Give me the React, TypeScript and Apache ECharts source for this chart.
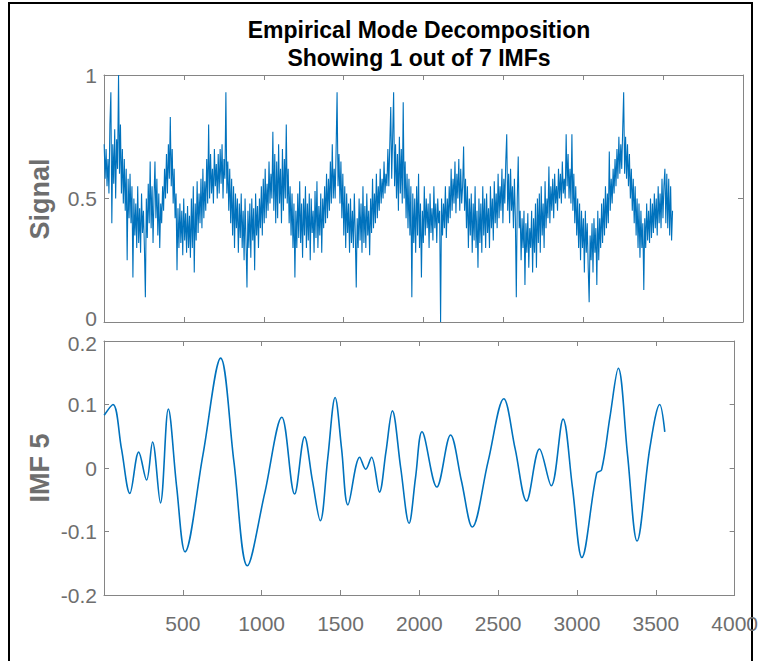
import React, { useEffect, useRef } from 'react';
import * as echarts from 'echarts';

const TITLE_LINES = ['Empirical Mode Decomposition', 'Showing 1 out of 7 IMFs'];
const TOP_LABEL = 'Signal';
const BOTTOM_LABEL = 'IMF 5';

const SIGNAL_STEP = 6;
const signalValues = [
  0.72, 0.58, 0.70, 0.55, 0.66, 0.52, 0.80, 0.93, 0.40, 0.72, 0.56, 0.78, 0.50, 0.74, 0.62, 1.00, 0.60, 0.80, 0.52, 0.70, 0.48, 0.66, 0.45, 0.62, 0.25, 0.58, 0.42, 0.60, 0.40, 0.55,
  0.18, 0.50, 0.35, 0.48, 0.30, 0.55, 0.32, 0.46, 0.28, 0.52, 0.36, 0.45, 0.30, 0.10, 0.50, 0.34, 0.56, 0.40, 0.65, 0.38, 0.55, 0.32, 0.50, 0.65, 0.42, 0.58, 0.35, 0.52, 0.30, 0.48,
  0.40, 0.55, 0.45, 0.62, 0.50, 0.68, 0.52, 0.72, 0.58, 0.83, 0.55, 0.70, 0.48, 0.62, 0.42, 0.52, 0.21, 0.46, 0.30, 0.48, 0.32, 0.45, 0.27, 0.50, 0.33, 0.44, 0.28, 0.47, 0.30, 0.43,
  0.26, 0.50, 0.30, 0.55, 0.20, 0.48, 0.33, 0.57, 0.36, 0.52, 0.40, 0.58, 0.38, 0.62, 0.42, 0.57, 0.45, 0.66, 0.48, 0.80, 0.50, 0.68, 0.52, 0.62, 0.48, 0.70, 0.55, 0.64, 0.50, 0.68,
  0.52, 0.70, 0.56, 0.72, 0.50, 0.66, 0.58, 0.93, 0.52, 0.65, 0.45, 0.62, 0.40, 0.58, 0.35, 0.55, 0.30, 0.52, 0.38, 0.50, 0.28, 0.48, 0.34, 0.52, 0.30, 0.45, 0.25, 0.50, 0.32, 0.14,
  0.45, 0.30, 0.48, 0.26, 0.50, 0.33, 0.46, 0.21, 0.52, 0.35, 0.47, 0.30, 0.50, 0.38, 0.55, 0.35, 0.58, 0.40, 0.62, 0.42, 0.56, 0.45, 0.65, 0.48, 0.60, 0.50, 0.77, 0.45, 0.68, 0.40,
  0.65, 0.42, 0.72, 0.48, 0.62, 0.40, 0.70, 0.45, 0.66, 0.50, 0.80, 0.48, 0.62, 0.40, 0.55, 0.35, 0.52, 0.30, 0.48, 0.18, 0.45, 0.30, 0.52, 0.34, 0.57, 0.32, 0.48, 0.26, 0.50, 0.35,
  0.55, 0.30, 0.48, 0.33, 0.52, 0.25, 0.50, 0.36, 0.45, 0.28, 0.53, 0.34, 0.57, 0.30, 0.47, 0.35, 0.52, 0.28, 0.50, 0.38, 0.55, 0.40, 0.60, 0.42, 0.58, 0.45, 0.65, 0.48, 0.72, 0.50,
  0.62, 0.50, 0.70, 0.93, 0.55, 0.68, 0.48, 0.65, 0.42, 0.60, 0.35, 0.55, 0.30, 0.52, 0.36, 0.48, 0.28, 0.50, 0.32, 0.45, 0.30, 0.52, 0.35, 0.14, 0.42, 0.30, 0.50, 0.33, 0.48, 0.28,
  0.55, 0.32, 0.47, 0.30, 0.52, 0.35, 0.45, 0.27, 0.50, 0.36, 0.58, 0.38, 0.52, 0.40, 0.60, 0.42, 0.55, 0.45, 0.62, 0.48, 0.58, 0.50, 0.65, 0.52, 0.60, 0.55, 0.70, 0.55, 0.72, 0.87,
  0.58, 0.75, 0.93, 0.55, 0.72, 0.50, 0.68, 0.45, 0.75, 0.52, 0.70, 0.48, 0.89, 0.50, 0.65, 0.42, 0.60, 0.38, 0.58, 0.35, 0.55, 0.10, 0.52, 0.32, 0.50, 0.28, 0.55, 0.35, 0.60, 0.30,
  0.48, 0.18, 0.45, 0.32, 0.55, 0.35, 0.50, 0.38, 0.48, 0.30, 0.52, 0.36, 0.46, 0.33, 0.55, 0.38, 0.48, 0.32, 0.50, 0.40, 0.45, 0.00, 0.50, 0.35, 0.48, 0.38, 0.55, 0.34, 0.50, 0.40,
  0.55, 0.42, 0.62, 0.45, 0.58, 0.48, 0.65, 0.44, 0.60, 0.50, 0.66, 0.45, 0.62, 0.48, 0.55, 0.71, 0.45, 0.58, 0.38, 0.55, 0.30, 0.50, 0.35, 0.52, 0.28, 0.48, 0.33, 0.55, 0.30, 0.45,
  0.22, 0.50, 0.32, 0.48, 0.28, 0.55, 0.35, 0.50, 0.30, 0.52, 0.36, 0.46, 0.30, 0.55, 0.38, 0.50, 0.33, 0.57, 0.40, 0.52, 0.38, 0.60, 0.42, 0.55, 0.45, 0.62, 0.40, 0.58, 0.48, 0.65,
  0.76, 0.45, 0.60, 0.40, 0.62, 0.45, 0.55, 0.38, 0.58, 0.42, 0.10, 0.50, 0.67, 0.38, 0.45, 0.25, 0.42, 0.30, 0.45, 0.15, 0.40, 0.28, 0.44, 0.22, 0.38, 0.30, 0.45, 0.20, 0.42, 0.28,
  0.48, 0.22, 0.50, 0.32, 0.52, 0.28, 0.55, 0.35, 0.48, 0.30, 0.57, 0.38, 0.50, 0.42, 0.63, 0.40, 0.55, 0.45, 0.58, 0.42, 0.60, 0.48, 0.55, 0.45, 0.62, 0.50, 0.60, 0.48, 0.65, 0.52,
  0.58, 0.50, 0.76, 0.55, 0.68, 0.50, 0.62, 0.48, 0.76, 0.45, 0.60, 0.40, 0.55, 0.35, 0.50, 0.30, 0.48, 0.25, 0.45, 0.30, 0.42, 0.20, 0.45, 0.28, 0.40, 0.22, 0.08, 0.35, 0.25, 0.40,
  0.20, 0.42, 0.28, 0.38, 0.15, 0.45, 0.25, 0.42, 0.30, 0.48, 0.32, 0.50, 0.35, 0.55, 0.38, 0.52, 0.40, 0.69, 0.45, 0.58, 0.48, 0.62, 0.52, 0.66, 0.55, 0.70, 0.58, 0.75, 0.60, 0.72,
  0.62, 0.78, 0.93, 0.60, 0.75, 0.58, 0.72, 0.55, 0.68, 0.50, 0.62, 0.45, 0.58, 0.40, 0.55, 0.35, 0.50, 0.30, 0.48, 0.26, 0.45, 0.30, 0.40, 0.13, 0.42, 0.30, 0.48, 0.33, 0.45, 0.32,
  0.50, 0.34, 0.48, 0.36, 0.52, 0.38, 0.50, 0.35, 0.55, 0.40, 0.52, 0.38, 0.58, 0.42, 0.55, 0.62, 0.40, 0.60, 0.38, 0.58, 0.35, 0.55, 0.33, 0.45,
];

// IMF 5: sample index and value
const imfIndex = [
  0, 56, 110, 163, 219, 269, 307, 357, 407, 460, 513, 626, 739, 823, 908, 1018, 1127, 1208, 1271, 1321,
  1371, 1418, 1465, 1506, 1546, 1621, 1659, 1696, 1746, 1787, 1828, 1881, 1934, 1975, 2016, 2110, 2197, 2266,
  2335, 2435, 2535, 2607, 2679, 2761, 2836, 2911, 2970, 3030, 3124, 3155, 3208, 3261, 3320, 3380, 3462, 3524, 3556,
];
const imfValues = [
  0.083, 0.100, 0.030, -0.040, 0.025, -0.019, 0.041, -0.055, 0.093, -0.030, -0.132, 0.020, 0.173, 0.010, -0.154, -0.040, 0.080, -0.041, 0.049, -0.020,
  -0.083, 0.015, 0.111, 0.030, -0.058, 0.017, -0.002, 0.017, -0.038, 0.025, 0.090, 0.000, -0.087, -0.015, 0.057, -0.030, 0.052, -0.020,
  -0.093, 0.010, 0.109, 0.030, -0.052, 0.030, -0.028, 0.077, -0.030, -0.141, -0.008, -0.003, 0.080, 0.157, 0.020, -0.115, 0.033, 0.100, 0.057,
];

const X_MIN = 0;
const X_MAX = 4000;
const X_INTERVAL = 500;
const TOP_Y = { min: 0, max: 1, interval: 0.5 };
const BOTTOM_Y = { min: -0.2, max: 0.2, interval: 0.1 };

const LINE_COLOR = '#0072BD';
const AXIS_COLOR = '#858585';
const LABEL_COLOR = '#6e6e6e';
const FONT = 'Liberation Sans, Arial, Helvetica, sans-serif';
const TICK_FONT_SIZE = 21;

const fmt = (v: number) => {
  const r = Number(v.toFixed(1));
  return r === 0 ? '0' : String(r);
};

export default function App() {
  const ref = useRef<HTMLDivElement>(null);
  useEffect(() => {
    if (!ref.current) return;
    const chart = echarts.init(ref.current, undefined, { renderer: 'svg' });
    const grids = [
      { left: 104, top: 75, width: 639, height: 247 },
      { left: 104, top: 341, width: 639, height: 254 },
    ];
    const richBase = { fontSize: TICK_FONT_SIZE, fontFamily: FONT, color: LABEL_COLOR };
    const baseX = (gridIndex: number, position: 'top' | 'bottom', showLabel: boolean) => ({
      type: 'value' as const,
      gridIndex,
      position,
      min: X_MIN,
      max: X_MAX,
      interval: X_INTERVAL,
      axisLine: { show: true, onZero: false, lineStyle: { color: AXIS_COLOR, width: 1 } },
      axisTick: { show: true, inside: true, length: 5, lineStyle: { color: AXIS_COLOR } },
      axisLabel: {
        show: showLabel,
        color: LABEL_COLOR,
        fontSize: TICK_FONT_SIZE,
        fontFamily: FONT,
        margin: 18,
        formatter: (v: number) => (v === 0 ? '' : String(v)),
      },
      splitLine: { show: false },
    });
    const baseY = (gridIndex: number, position: 'left' | 'right', showLabel: boolean, r: any, formatter: any) => ({
      type: 'value' as const,
      gridIndex,
      position,
      min: r.min,
      max: r.max,
      interval: r.interval,
      axisLine: { show: true, onZero: false, lineStyle: { color: AXIS_COLOR, width: 1 } },
      axisTick: { show: true, inside: true, length: 5, lineStyle: { color: AXIS_COLOR } },
      axisLabel: {
        show: showLabel,
        color: LABEL_COLOR,
        fontSize: TICK_FONT_SIZE,
        fontFamily: FONT,
        margin: 7,
        formatter,
        rich: {
          lo: { ...richBase, padding: [0, 0, 7, 0] },
          hi: { ...richBase, padding: [5, 0, 0, 0] },
        },
      },
      splitLine: { show: false },
    });
    const topFmt = (v: number) => (Math.abs(v) < 1e-9 ? '{lo|0}' : fmt(v));
    const bottomFmt = (v: number) => (Math.abs(v - BOTTOM_Y.max) < 1e-9 ? `{hi|${fmt(v)}}` : fmt(v));
    chart.setOption({
      animation: false,
      backgroundColor: '#ffffff',
      grid: grids,
      xAxis: [baseX(0, 'bottom', false), baseX(0, 'top', false), baseX(1, 'bottom', true), baseX(1, 'top', false)],
      yAxis: [
        baseY(0, 'left', true, TOP_Y, topFmt),
        baseY(0, 'right', false, TOP_Y, fmt),
        baseY(1, 'left', true, BOTTOM_Y, bottomFmt),
        baseY(1, 'right', false, BOTTOM_Y, fmt),
      ],
      series: [
        {
          type: 'line',
          xAxisIndex: 0,
          yAxisIndex: 0,
          data: signalValues.map((v, i) => [i * SIGNAL_STEP + 1, v]),
          showSymbol: false,
          lineStyle: { color: LINE_COLOR, width: 1.1 },
          itemStyle: { color: LINE_COLOR },
        },
        {
          type: 'line',
          xAxisIndex: 2,
          yAxisIndex: 2,
          data: imfIndex.map((x, i) => [x + 1, imfValues[i]]),
          smooth: 0.35,
          showSymbol: false,
          lineStyle: { color: LINE_COLOR, width: 1.6 },
          itemStyle: { color: LINE_COLOR },
        },
      ],
      graphic: [
        {
          type: 'rect',
          shape: { x: 9, y: 3, width: 743, height: 700 },
          style: { fill: 'none', stroke: '#000000', lineWidth: 2 },
          silent: true,
        },
        {
          type: 'text',
          x: 419,
          y: 30,
          style: { text: TITLE_LINES[0], fill: '#000', font: `bold 23px ${FONT}`, textAlign: 'center', textVerticalAlign: 'middle' },
        },
        {
          type: 'text',
          x: 419,
          y: 58,
          style: { text: TITLE_LINES[1], fill: '#000', font: `bold 23px ${FONT}`, textAlign: 'center', textVerticalAlign: 'middle' },
        },
        {
          type: 'text',
          x: 40,
          y: 199,
          rotation: Math.PI / 2,
          style: { text: TOP_LABEL, fill: LABEL_COLOR, font: `bold 27px ${FONT}`, textAlign: 'center', textVerticalAlign: 'middle' },
        },
        {
          type: 'text',
          x: 40,
          y: 468,
          rotation: Math.PI / 2,
          style: { text: BOTTOM_LABEL, fill: LABEL_COLOR, font: `bold 27px ${FONT}`, textAlign: 'center', textVerticalAlign: 'middle' },
        },
      ],
    });
    return () => chart.dispose();
  }, []);
  return <div ref={ref} style={{ position: 'fixed', left: 0, top: 0, width: 761, height: 661 }} />;
}
